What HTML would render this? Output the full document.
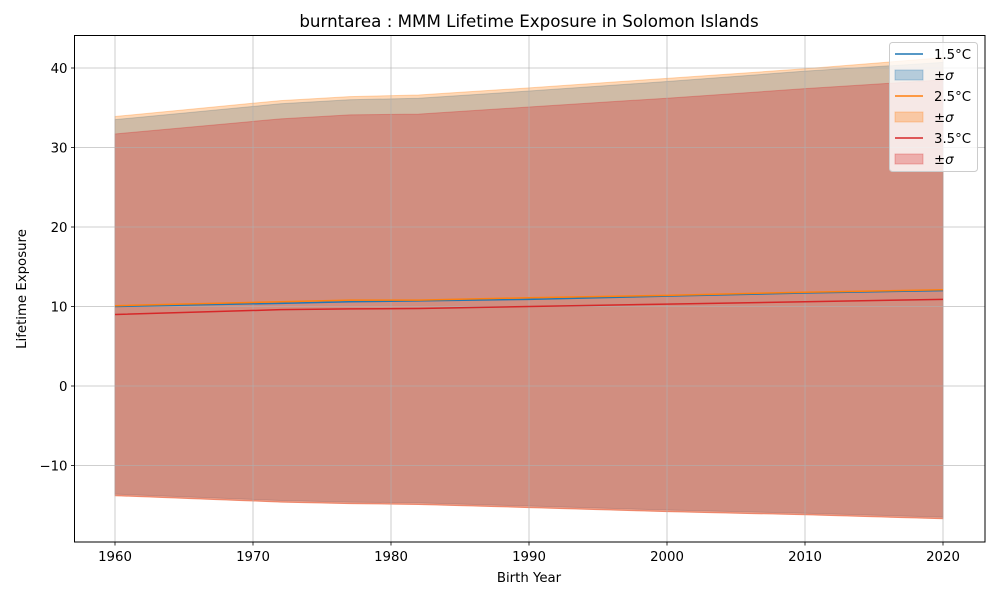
<!DOCTYPE html>
<html><head><meta charset="utf-8"><style>
body{margin:0;background:#fff;font-family:"Liberation Sans","DejaVu Sans",sans-serif}
svg text{font-family:"DejaVu Sans","Liberation Sans",sans-serif}
</style></head><body>
<svg id="chart" width="1000" height="600" xmlns="http://www.w3.org/2000/svg">
<rect width="1000" height="600" fill="#fff"/>
<g id="bands"></g><g id="grid"></g><g id="lines"></g><g id="axes"></g><g id="legend"></g>
</svg>
<script>
const years=[1960,1972,1977,1982,1990,2000,2010,2020];
const mean15=[10.0,10.4,10.6,10.7,10.9,11.3,11.7,12.0];
const upper15=[33.5,35.5,36.0,36.2,37.1,38.3,39.6,40.7];
const lower15=[-13.6,-14.4,-14.6,-14.7,-15.1,-15.6,-16.0,-16.5];
const mean25=[10.1,10.6,10.8,10.8,11.1,11.4,11.8,12.1];
const upper25=[33.9,35.9,36.4,36.6,37.5,38.7,39.9,41.3];
const lower25=[-13.8,-14.6,-14.8,-14.9,-15.3,-15.8,-16.2,-16.7];
const mean35=[9.0,9.6,9.7,9.75,10.0,10.3,10.6,10.9];
const upper35=[31.7,33.6,34.1,34.2,35.1,36.2,37.4,38.5];
const lower35=[-13.8,-14.6,-14.8,-14.9,-15.3,-15.8,-16.2,-16.7];
const xTicks=[1960,1970,1980,1990,2000,2010,2020];
const yTicks=[-10,0,10,20,30,40];
const L=74.5,R=985,T=35.5,B=542;
const X=v=>115+(v-1960)*(943-115)/60;
const Y=v=>386-v*(386-68)/40;
const NS="http://www.w3.org/2000/svg";
function mk(p,t,a){const e=document.createElementNS(NS,t);for(const k in a)e.setAttribute(k,a[k]);p.appendChild(e);return e;}
const grid=document.getElementById('grid'),bands=document.getElementById('bands'),lines=document.getElementById('lines'),axes=document.getElementById('axes'),leg=document.getElementById('legend');
const FS=13.3;
xTicks.forEach(t=>{const g=mk(grid,'line',{x1:X(t),x2:X(t),y1:T,y2:B,stroke:'#b0b0b0','stroke-width':0.8,'stroke-opacity':0.8});

mk(axes,'line',{x1:X(t),x2:X(t),y1:B,y2:B+3.5,stroke:'#000','stroke-width':0.8});
const tx=mk(axes,'text',{x:X(t),y:B+19,'font-size':FS,'text-anchor':'middle'});tx.textContent=t;
});
yTicks.forEach(t=>{const g=mk(grid,'line',{x1:L,x2:R,y1:Y(t),y2:Y(t),stroke:'#b0b0b0','stroke-width':0.8,'stroke-opacity':0.8});

mk(axes,'line',{x1:L-3.5,x2:L,y1:Y(t),y2:Y(t),stroke:'#000','stroke-width':0.8});
const tx=mk(axes,'text',{x:L-7,y:Y(t)+5,'font-size':FS,'text-anchor':'end'});tx.textContent=(t<0?'\u2212'+(-t):t);
});
const series=[['1.5',mean15,upper15,lower15,'#1f77b4'],['2.5',mean25,upper25,lower25,'#ff7f0e'],['3.5',mean35,upper35,lower35,'#d62728']];
series.forEach(([n,m,u,l,c])=>{
let d='M'+years.map((y,i)=>X(y)+','+Y(u[i])).join('L')+'L'+years.slice().reverse().map((y,i)=>X(y)+','+Y(l[l.length-1-i])).join('L')+'Z';
const b=mk(bands,'path',{d:d,fill:c,'fill-opacity':0.3,stroke:c,'stroke-opacity':0.3,'stroke-width':1});
});
series.forEach(([n,m,u,l,c])=>{
const p=mk(lines,'polyline',{points:years.map((y,i)=>X(y)+','+Y(m[i])).join(' '),fill:'none',stroke:c,'stroke-width':1.5});
});
mk(axes,'rect',{x:L,y:T,width:R-L,height:B-T,fill:'none',stroke:'#000','stroke-width':1});
const title=mk(axes,'text',{x:529,y:27,'font-size':16.7,'text-anchor':'middle'});title.textContent='burntarea : MMM Lifetime Exposure in Solomon Islands';

const xl=mk(axes,'text',{x:529,y:582,'font-size':FS,'text-anchor':'middle'});xl.textContent='Birth Year';

const yl=mk(axes,'text',{x:26,y:289,'font-size':FS,'text-anchor':'middle',transform:'rotate(-90 26 289)'});yl.textContent='Lifetime Exposure';

const lb=mk(leg,'rect',{x:889.5,y:42.5,width:88,height:129,rx:3,fill:'#fff','fill-opacity':0.8,stroke:'#ccc'});

series.forEach(([n,m,u,l,c],i)=>{const y0=54+i*42;
const ln=mk(leg,'line',{x1:895,x2:923,y1:y0,y2:y0,stroke:c,'stroke-width':1.5});

const t1=mk(leg,'text',{x:934,y:y0+5,'font-size':FS});t1.textContent=n+'\u00B0C';

const sw=mk(leg,'rect',{x:895,y:y0+16,width:28,height:10,fill:c,'fill-opacity':0.3,stroke:c,'stroke-opacity':0.3});

const t2=mk(leg,'text',{x:934,y:y0+26,'font-size':FS});t2.innerHTML='\u00B1<tspan font-style="italic">\u03C3</tspan>';
});
</script>
</body></html>
